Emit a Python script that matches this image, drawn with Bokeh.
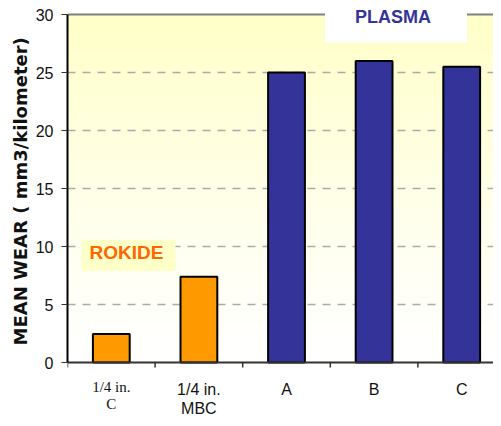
import numpy as np
from bokeh.plotting import figure
from bokeh.models import Range1d, FixedTicker, Label, ColumnDataSource, Span, Title
from bokeh.embed import file_html
from bokeh.resources import INLINE

# ---- data ----
categories = ["1/4 in.\nC", "1/4 in.\nMBC", "A", "B", "C"]
wear = [2.45, 7.4, 25.0, 26.0, 25.5]
bar_colors = ["#FF9900", "#FF9900", "#333399", "#333399", "#333399"]
y_ticks = [0, 5, 10, 15, 20, 25, 30]
group_labels = ["ROKIDE", "PLASMA"]
y_title = "MEAN WEAR ( mm3/kilometer)"

xs = [i + 0.5 for i in range(len(categories))]
bounds = list(range(len(categories) + 1))
src = ColumnDataSource(dict(x=xs, top=wear, color=bar_colors))

PX = 11.6  # pixels per y unit
W, H = 493, 418
LEFT = 67
ZERO = 362
ymax_axis = y_ticks[-1]

p = figure(width=W, height=H, output_backend="svg", toolbar_location=None,
           x_range=Range1d(0, (W - LEFT) / 87.6),
           y_range=Range1d(-(H - ZERO) / PX, ZERO / PX),
           min_border_left=LEFT, min_border_right=0, min_border_top=0,
           min_border_bottom=0)
p.background_fill_color = "white"
p.border_fill_color = "white"
p.outline_line_color = None

# gradient background (light yellow at top -> white at bottom)
n = 256
t = np.linspace(0, 1, n) ** 1.2
img = np.empty((n, 1), dtype=np.uint32)
view = img.view(dtype=np.uint8).reshape((n, 1, 4))
view[:, 0, 0] = 255
view[:, 0, 1] = 255
view[:, 0, 2] = (255 - 55 * t).astype(np.uint8)
view[:, 0, 3] = 255
p.image_rgba(image=[img], x=0, y=0, dw=len(categories) + 1, dh=ymax_axis, level="image")

# grid
p.xgrid.visible = False
p.ygrid.ticker = FixedTicker(ticks=y_ticks[1:-1])
p.ygrid.grid_line_color = "#aaaaaa"
p.ygrid.grid_line_dash = "8 7"
p.ygrid.grid_line_width = 1.5

# top border of plot area
p.add_layout(Span(location=ymax_axis, dimension="width", line_color="#808080",
                  line_width=2, level="underlay"))

p.vbar(x="x", top="top", width=0.42, source=src, fill_color="color",
       line_color="black", line_width=2)

# x axis line and category boundary ticks
p.add_layout(Span(location=0, dimension="width", line_color="#333333",
                  line_width=2, level="glyph"))
p.segment(x0=bounds, y0=[0] * len(bounds), x1=bounds, y1=[-5 / PX] * len(bounds),
          line_color="#333333", line_width=1.5)

# y axis
p.yaxis.ticker = FixedTicker(ticks=y_ticks)
p.yaxis.bounds = (y_ticks[0], y_ticks[-1])
p.yaxis.axis_line_color = "black"
p.yaxis.axis_line_width = 2
p.yaxis.major_tick_line_color = "#333333"
p.yaxis.major_tick_out = 6
p.yaxis.major_tick_in = 0
p.yaxis.minor_tick_line_color = None
p.yaxis.major_label_text_font = "Liberation Sans"
p.yaxis.major_label_text_font_size = "16px"
p.yaxis.major_label_text_color = "#111111"
p.yaxis.major_label_standoff = 8

# y axis title (as a side title so it can be placed along the 0-30 span)
p.add_layout(Title(text=y_title, align="left", offset=73,
                   text_font="DejaVu Sans", text_font_size="18px",
                   text_font_style="bold", text_color="#111111", standoff=4), "left")

p.xaxis.visible = False

# category labels (first one in serif, as in the original)
for i, cat in enumerate(categories):
    lines = cat.split("\n")
    if i == 0:
        font, size, y0, dy = "Liberation Serif", "15px", -(386 - ZERO) / PX, 17 / PX
    else:
        font, size, y0, dy = "Liberation Sans", "16px", -(389 - ZERO) / PX, 19 / PX
    for j, ln in enumerate(lines):
        p.add_layout(Label(x=xs[i], y=y0 - j * dy, text=ln, text_font=font,
                           text_font_size=size, text_align="center",
                           text_baseline="middle", text_color="#111111"))

# group labels
p.add_layout(Label(x=0.696, y=(ZERO - 255) / PX, text=group_labels[0],
                   text_font="Liberation Sans",
                   text_font_size="19px", text_font_style="bold", text_color="#FF6600",
                   text_align="center", text_baseline="middle",
                   background_fill_color="#FFFFC8",
                   padding=dict(left=8, right=12, top=2, bottom=8)))
p.add_layout(Label(x=3.75, y=(ZERO - 19) / PX, text=group_labels[1],
                   text_font="Liberation Sans",
                   text_font_size="18px", text_font_style="bold", text_color="#333399",
                   text_align="center", text_baseline="middle",
                   background_fill_color="white",
                   padding=dict(left=30, right=36, top=10, bottom=16)))

open("out.html", "w").write(file_html(p, INLINE))
